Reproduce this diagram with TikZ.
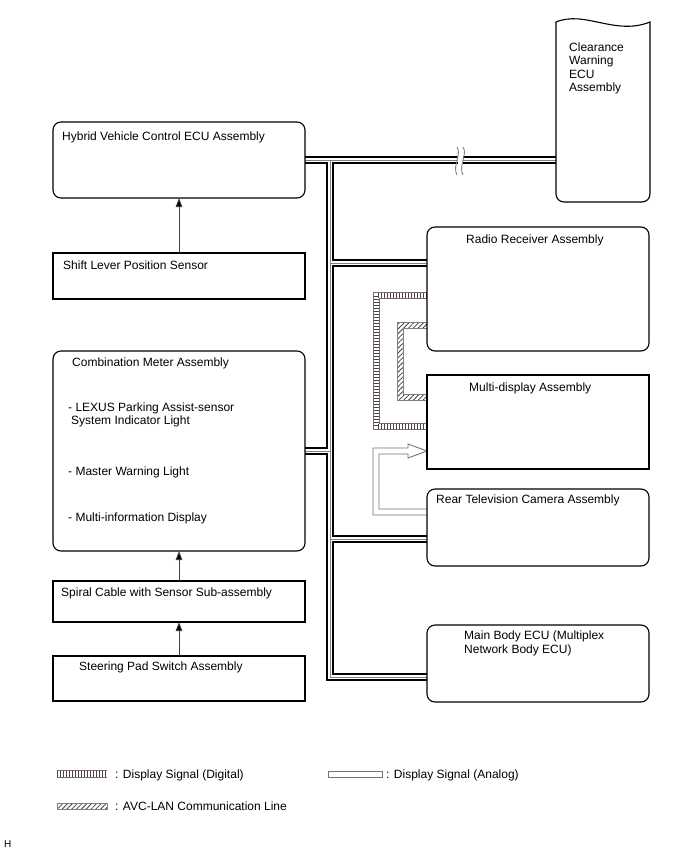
\documentclass[tikz,border=0pt]{standalone}
\usepackage{fontspec}
\setmainfont{Liberation Sans}
\usetikzlibrary{arrows.meta,patterns.meta,calc}
\definecolor{stripe}{RGB}{80,62,70}
\definecolor{bandout}{RGB}{120,105,110}
\begin{document}
\begin{tikzpicture}[x=1pt,y=-1pt,
  box/.style={draw=black,line width=1.1pt,minimum width=252pt,anchor=north west,inner sep=0pt,outer sep=0pt},
  rbox/.style={box,rounded corners=8pt},
  txt/.style={anchor=west,inner sep=0pt,font=\fontsize{12}{14}\selectfont,align=left},
  busblack/.style={line width=8.6pt,black},
  buswhite/.style={line width=4.4pt,white},
  busgray/.style={line width=1pt,gray},
  sig/.style={draw=black!75,line width=0.9pt,-{Triangle[length=9pt,width=6.5pt,fill=black]}},
  digout/.style={line width=7.2pt,bandout},
  digin/.style={line width=5.4pt,white},
  digstripe/.style={line width=5.4pt,stripe,dash pattern=on 1.4pt off 1.6pt},
  avcband/.style={draw=gray,line width=0.7pt,pattern={Lines[angle=45,distance=3.4pt,line width=0.8pt]},pattern color=black!75},
  anaband/.style={draw=gray!90!black,line width=0.9pt,fill=white},
]
\useasboundingbox (0,0) rectangle (688,852);

% boxes (placed first, outlines drawn later on top of the lines)
\node[rbox,draw=none,minimum height=76pt] (hv) at (53,122) {};
\node[box,draw=none,minimum height=46pt] (sl) at (53,253) {};
\node[rbox,draw=none,minimum height=200pt] (cm) at (53,351) {};
\node[box,draw=none,minimum height=41pt] (sc) at (53,581) {};
\node[box,draw=none,minimum height=45pt] (sp) at (53,656) {};
\node[rbox,draw=none,minimum width=222pt,minimum height=124pt] (rr) at (427,227) {};
\node[box,draw=none,minimum width=222pt,minimum height=94pt] (md) at (427,375) {};
\node[rbox,draw=none,minimum width=222pt,minimum height=77pt] (rt) at (427,489) {};
\node[rbox,draw=none,minimum width=222pt,minimum height=77pt] (mb) at (427,625) {};
\node[box,draw=none,minimum width=94pt,minimum height=180pt] (cw) at (556,22) {};

% junction coordinates of the bus
\coordinate (j0) at (330,160);
\coordinate (jb) at (330,677);
\coordinate (jr) at (330,263);
\coordinate (jc) at (330,451);
\coordinate (jt) at (330,539);

\newcommand\busnet[1]{%
  \draw[#1] (hv.east) -- (cw.west |- hv.east);
  \draw[#1,line join=miter] (j0) -- (jb) -- (mb.west |- jb);
  \draw[#1] (jr) -- (rr.west |- jr);
  \draw[#1] (cm.east |- jc) -- (jc);
  \draw[#1] (jt) -- (rt.west |- jt);
}
\busnet{busblack}
\busnet{buswhite}
\busnet{busgray}

% break symbol
\fill[white] (457.5,151) rectangle (462.5,170);
\draw[gray,line width=0.9pt] (457,147) .. controls (462,154) and (452,166) .. (457,175);
\draw[gray,line width=0.9pt] (463,147) .. controls (468,154) and (458,166) .. (463,175);

% digital display signal
\coordinate (d1) at (376.5,295.5);
\coordinate (d2) at (376.5,426.5);
\foreach \s in {digout,digin,digstripe}
  \draw[\s] (rr.west |- d1) -- (d1) -- (d2) -- (md.west |- d2);

% AVC-LAN
\path[avcband] (rr.west |- 0,322) -- (397,322) -- (397,400) -- (md.west |- 0,400) -- (md.west |- 0,394) -- (403,394) -- (403,328) -- (rr.west |- 0,328);

% analog display signal
\path[anaband] (rt.west |- 0,515) -- (373,515) -- (373,448) -- (408,448) -- (408,444) -- (md.west |- 0,451) -- (408,458) -- (408,454) -- (379,454) -- (379,509) -- (rt.west |- 0,509);

% box outlines
\foreach \n in {hv,cm,rr,rt,mb}
  \draw[line width=1.1pt,rounded corners=8pt] (\n.north west) rectangle (\n.south east);
\foreach \n in {sl,sc,sp,md}
  \draw[line width=1.1pt] (\n.north west) rectangle (\n.south east);

% clearance warning ECU
\draw[line width=1.1pt] (cw.north west) .. controls (585,10) and (615,36) .. (cw.north east)
  [rounded corners=8pt] -- (cw.south east) -- (cw.south west) [sharp corners] -- cycle;

% arrows
\draw[sig] (sl.north) -- (hv.south);
\draw[sig] (sc.north) -- (cm.south);
\draw[sig] (sp.north) -- (sc.south);

% texts
\node[txt] at (62,137) {Hybrid Vehicle Control ECU Assembly};
\node[txt] at (63,265) {Shift Lever Position Sensor};
\node[txt] at (72,363) {Combination Meter Assembly};
\node[txt] at (68,408) {- LEXUS Parking Assist-sensor};
\node[txt] at (71,421) {System Indicator Light};
\node[txt] at (68,472) {- Master Warning Light};
\node[txt] at (68,518) {- Multi-information Display};
\node[txt] at (61,593) {Spiral Cable with Sensor Sub-assembly};
\node[txt] at (79,667) {Steering Pad Switch Assembly};
\node[txt] at (466,240) {Radio Receiver Assembly};
\node[txt] at (469,388) {Multi-display Assembly};
\node[txt] at (436,500) {Rear Television Camera Assembly};
\node[txt] at (464,636) {Main Body ECU (Multiplex};
\node[txt] at (464,650) {Network Body ECU)};
\node[txt] at (569,47) {Clearance};
\node[txt] at (569,61) {Warning};
\node[txt] at (569,74) {ECU};
\node[txt] at (569,88) {Assembly};

% legend
\coordinate (lg1) at (57,774);
\coordinate (lg2) at (107,774);
\foreach \s in {digout,digin,digstripe}
  \draw[\s] (lg1) -- (lg2);
\node[txt] (lt1) at (115,775) {: Display Signal (Digital)};
\path[anaband] (328,771) rectangle (382,777);
\node[txt] (lt2) at (386,775) {: Display Signal (Analog)};
\path[avcband] (57,803) rectangle (107,809);
\node[txt] (lt3) at (115,806) {: AVC-LAN Communication Line};
\node[txt,font=\fontsize{10}{11}\selectfont] (hh) at (4,844) {H};
\end{tikzpicture}
\end{document}
